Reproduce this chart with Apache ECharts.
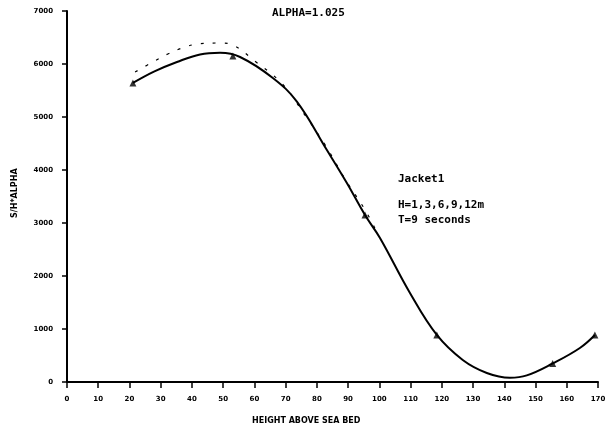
<!DOCTYPE html>
<html>
<head>
<meta charset="utf-8">
<script src="https://cdn.jsdelivr.net/npm/echarts@6/dist/echarts.min.js"></script>
<style>
  html, body { margin: 0; padding: 0; background: #fff; }
  #chart { width: 610px; height: 434px; }
</style>
</head>
<body>
<div id="chart"></div>
<script>
  // solid fitted curve
  const solidX = [21.1, 28, 35.2, 42.6, 49, 55.4, 65.9, 73.6, 83.2, 89.6, 95.4, 100.2, 109.8, 118.4, 126.7, 134.4, 141.8, 147.2, 155.5, 164.2, 169]
  const solidY = [5642, 5860, 6038, 6180, 6210, 6132, 5736, 5290, 4377, 3755, 3151, 2717, 1679, 887, 415, 170, 80, 125, 350, 642, 887]
  // dashed curve (upper branch)
  const dashX = [21.8, 27.5, 32.3, 37.8, 41.9, 49, 53.1, 60, 69, 76, 83, 89, 95.4, 99]
  const dashY = [5849, 6038, 6189, 6321, 6377, 6396, 6358, 6060, 5620, 5050, 4440, 3830, 3250, 2850]
  // measured points (triangles)
  const markX = [21.1, 53.1, 95.4, 118.4, 155.5, 169]
  const markY = [5642, 6151, 3151, 887, 350, 887]

  const xTicks = [0, 10, 20, 30, 40, 50, 60, 70, 80, 90, 100, 110, 120, 130, 140, 150, 160, 170]
  const yTicks = [0, 1000, 2000, 3000, 4000, 5000, 6000, 7000]

  const noteLines = ['Jacket1', 'H=1,3,6,9,12m', 'T=9 seconds']

  const zip = (xs, ys) => xs.map((x, i) => [x, ys[i]])

  const chart = echarts.init(document.getElementById('chart'), null, { renderer: 'canvas' })

  const tickLabel = { color: '#000', fontSize: 7, fontWeight: 'bold', fontFamily: 'DejaVu Sans', formatter: (v) => String(v) }

  chart.setOption({
    animation: false,
    backgroundColor: '#fff',
    grid: { left: 67, right: 12, top: 11, bottom: 52 },
    xAxis: {
      type: 'value',
      min: xTicks[0],
      max: xTicks[xTicks.length - 1],
      interval: 10,
      axisLine: { onZero: false, lineStyle: { color: '#000', width: 2 } },
      axisTick: { length: 6, lineStyle: { color: '#000', width: 1.5 } },
      axisLabel: { ...tickLabel, margin: 14 },
      splitLine: { show: false },
    },
    yAxis: {
      type: 'value',
      min: yTicks[0],
      max: yTicks[yTicks.length - 1],
      interval: 1000,
      axisLine: { onZero: false, lineStyle: { color: '#000', width: 2 } },
      axisTick: { length: 5, lineStyle: { color: '#000', width: 1.5 } },
      axisLabel: { ...tickLabel, margin: 14 },
      splitLine: { show: false },
    },
    series: [
      {
        type: 'line',
        data: zip(dashX, dashY),
        smooth: 0.4,
        showSymbol: false,
        lineStyle: { color: '#000', width: 1.2, type: [3, 9] },
        z: 2,
      },
      {
        type: 'line',
        data: zip(solidX, solidY),
        smooth: 0.4,
        showSymbol: false,
        lineStyle: { color: '#000', width: 2 },
        z: 3,
      },
      {
        type: 'scatter',
        data: zip(markX, markY),
        symbol: 'triangle',
        symbolSize: 7,
        itemStyle: { color: '#000' },
        z: 4,
      },
    ],
    graphic: [
      {
        type: 'text', left: 272, top: 8,
        style: { text: 'ALPHA=1.025', fill: '#000', font: 'bold 11px "DejaVu Sans Mono"' },
      },
      {
        type: 'text', left: 398, top: 174,
        style: { text: noteLines[0], fill: '#000', font: 'bold 11px "DejaVu Sans Mono"' },
      },
      {
        type: 'text', left: 398, top: 200,
        style: { text: noteLines[1], fill: '#000', font: 'bold 11px "DejaVu Sans Mono"' },
      },
      {
        type: 'text', left: 398, top: 215,
        style: { text: noteLines[2], fill: '#000', font: 'bold 11px "DejaVu Sans Mono"' },
      },
      {
        type: 'text', left: 252, top: 417,
        style: { text: 'HEIGHT ABOVE SEA BED', fill: '#000', font: 'bold 8px "DejaVu Sans"' },
      },
      {
        type: 'text', x: 11, y: 218, rotation: Math.PI / 2,
        style: { text: 'S/H*ALPHA', fill: '#000', font: 'bold 8px "DejaVu Sans"' },
      },
    ],
  })
</script>
</body>
</html>
